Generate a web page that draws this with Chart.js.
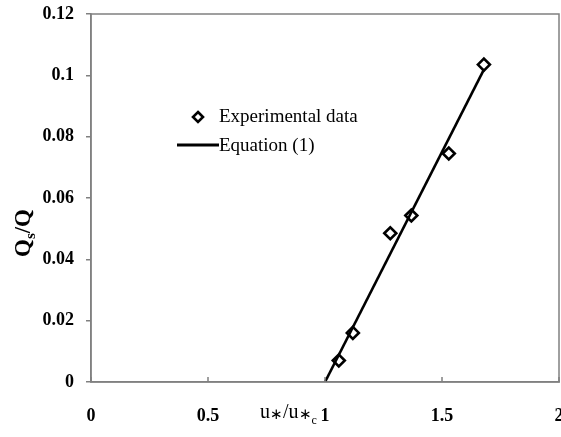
<!DOCTYPE html>
<html><head><meta charset="utf-8">
<script src="https://cdn.jsdelivr.net/npm/chart.js@4"></script>
<style>html,body{margin:0;padding:0;background:#fff}#w{width:561px;height:437px}</style>
</head><body><div id="w"><canvas id="c" width="561" height="437"></canvas></div>
<script>
const expX = [1.059, 1.119, 1.279, 1.369, 1.529, 1.679];
const expY = [0.007, 0.016, 0.0485, 0.0543, 0.0745, 0.1035];
const eqX = [1.0, 1.68];
const eqY = [0.0, 0.102];
const xTicks = [0, 0.5, 1, 1.5, 2];
const yTicks = [0, 0.02, 0.04, 0.06, 0.08, 0.1, 0.12];
const seriesNames = ['Experimental data', 'Equation (1)'];

const SERIF = '"Liberation Serif", "Times New Roman", serif';
const axisCol = '#808080';

const overlay = {
  id: 'overlay',
  afterDraw(chart) {
    const ctx = chart.ctx, a = chart.chartArea;
    const xs = chart.scales.x;
    ctx.save();
    // box
    ctx.strokeStyle = axisCol; ctx.lineWidth = 1.5;
    ctx.strokeRect(a.left, a.top, a.right - a.left, a.bottom - a.top);
    // inward x ticks
    ctx.beginPath();
    xTicks.forEach(v => { const px = xs.getPixelForValue(v); ctx.moveTo(px, a.bottom); ctx.lineTo(px, a.bottom - 5); });
    ctx.stroke();
    // y title Qs/Q
    ctx.fillStyle = '#000';
    ctx.translate(24, 233);
    ctx.rotate(-Math.PI / 2);
    ctx.textBaseline = 'middle';
    const big = 'bold 23px ' + SERIF, small = 'bold 15px ' + SERIF;
    ctx.font = big; const wQ = ctx.measureText('Q').width, wSl = ctx.measureText('/Q').width;
    ctx.font = small; const wS = ctx.measureText('s').width;
    let x0 = -(wQ + wS + wSl) / 2;
    ctx.font = big; ctx.fillText('Q', x0, 0);
    ctx.font = small; ctx.fillText('s', x0 + wQ, 7);
    ctx.font = big; ctx.fillText('/Q', x0 + wQ + wS, 0);
    ctx.setTransform(1, 0, 0, 1, 0, 0);
    // x title u*/u*c
    const n = '20px ' + SERIF, st = '15px ' + SERIF, sc = '12px ' + SERIF;
    let x = 260, y = 413;
    ctx.textBaseline = 'middle';
    ctx.font = n; ctx.fillText('u', x, y); x += ctx.measureText('u').width;
    ctx.font = st; ctx.fillText('\u2217', x, y + 2); x += ctx.measureText('\u2217').width;
    ctx.font = n; ctx.fillText('/u', x, y); x += ctx.measureText('/u').width;
    ctx.font = st; ctx.fillText('\u2217', x, y + 2); x += ctx.measureText('\u2217').width;
    ctx.font = sc; ctx.fillText('c', x, y + 8);
    // legend
    ctx.font = '19px ' + SERIF; ctx.textBaseline = 'middle';
    ctx.strokeStyle = '#000'; ctx.lineWidth = 2.6;
    const dx = 198, dy = 117, r = 5;
    ctx.beginPath(); ctx.moveTo(dx, dy - r); ctx.lineTo(dx + r, dy); ctx.lineTo(dx, dy + r); ctx.lineTo(dx - r, dy); ctx.closePath(); ctx.stroke();
    ctx.fillText(seriesNames[0], 219, 117);
    ctx.lineWidth = 3;
    ctx.beginPath(); ctx.moveTo(177, 145); ctx.lineTo(219, 145); ctx.stroke();
    ctx.fillText(seriesNames[1], 219, 146);
    ctx.restore();
  }
};

new Chart(document.getElementById('c'), {
  type: 'scatter',
  data: {
    datasets: [
      { label: seriesNames[1], data: eqX.map((v, i) => ({x: v, y: eqY[i]})), showLine: true,
        borderColor: '#000', borderWidth: 2.6, pointRadius: 0, order: 2 },
      { label: seriesNames[0], data: expX.map((v, i) => ({x: v, y: expY[i]})),
        pointStyle: 'rectRot', pointRadius: 6, borderColor: '#000', borderWidth: 2.6,
        backgroundColor: 'rgba(0,0,0,0)', order: 1 }
    ]
  },
  options: {
    responsive: false, animation: false,
    layout: { autoPadding: false, padding: { top: 14, right: 2, left: 0, bottom: 0 } },
    plugins: { legend: { display: false }, tooltip: { enabled: false } },
    scales: {
      x: {
        type: 'linear', min: 0, max: 2,
        afterBuildTicks: s => { s.ticks = xTicks.map(v => ({value: v})); },
        afterFit: s => { s.height = 55; s.paddingLeft = 0; s.paddingRight = 0; },
        grid: { display: false, drawTicks: false },
        border: { display: true, color: axisCol, width: 1.5 },
        ticks: { padding: 24, color: '#000', font: { family: SERIF, size: 18, weight: 'bold' }, maxRotation: 0,
          callback: v => String(v) }
      },
      y: {
        min: 0, max: 0.12,
        afterBuildTicks: s => { s.ticks = yTicks.map(v => ({value: v})); },
        afterFit: s => { s.width = 91; s.paddingTop = 0; s.paddingBottom = 0; },
        grid: { drawOnChartArea: false, drawTicks: true, tickLength: 5, color: axisCol, lineWidth: 1.5 },
        border: { display: true, color: axisCol, width: 1.5 },
        ticks: { padding: 12, color: '#000', font: { family: SERIF, size: 18, weight: 'bold' },
          callback: v => String(v) }
      }
    }
  },
  plugins: [overlay]
});
</script>
</body></html>
